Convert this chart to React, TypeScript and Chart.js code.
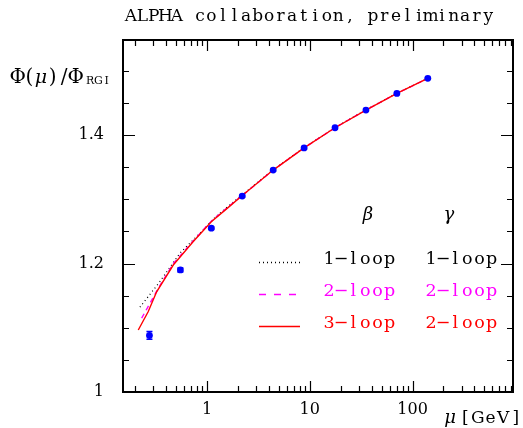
import React, { useEffect, useRef } from 'react';
import { Chart, registerables } from 'chart.js';

Chart.register(...registerables);

// ---------- data ----------
const muPoints = [0.275, 0.55, 1.1, 2.2, 4.4, 8.8, 17.6, 35.2, 70.4, 140.8];
const phiPoints = [1.088, 1.19, 1.255, 1.305, 1.3455, 1.38, 1.4114, 1.4389, 1.4649, 1.4883];
const phiErrors = [0.006, 0.003, 0.002, 0.0015, 0.0015, 0.0015, 0.0015, 0.0015, 0.0015, 0.0015];

const mu3loop = [0.214, 0.267, 0.323, 0.469, 0.731, 1.1, 1.6, 2.2, 4.4, 8.8, 17.6, 35.2, 70.4, 140.8];
const phi3loop = [1.0965, 1.125, 1.156, 1.1977, 1.234, 1.265, 1.287, 1.306, 1.3455, 1.38, 1.4114, 1.4389, 1.4649, 1.4883];

const mu2loop = [0.231, 0.278, 0.334, 0.469, 0.731, 1.1, 1.6, 2.2, 4.4, 8.8, 17.6, 35.2, 70.4, 140.8];
const phi2loop = [1.115, 1.138, 1.161, 1.2, 1.235, 1.266, 1.288, 1.306, 1.3455, 1.38, 1.4114, 1.4389, 1.4649, 1.4883];

const mu1loop = [0.222, 0.347, 0.543, 0.849, 1.2, 1.6, 2.2, 4.4, 8.8, 17.6, 35.2, 70.4, 140.8];
const phi1loop = [1.132, 1.1717, 1.216, 1.247, 1.272, 1.289, 1.307, 1.346, 1.3805, 1.4118, 1.4392, 1.4652, 1.4886];

const xTickLabels = [1, 10, 100];
const xMinorTicks = [0.2, 0.3, 0.4, 0.5, 0.6, 0.7, 0.8, 0.9, 2, 3, 4, 5, 6, 7, 8, 9, 20, 30, 40, 50, 60, 70, 80, 90, 200, 300, 400, 500, 600, 700, 800, 900];
const yTickLabels = [1, 1.2, 1.4];
const yMinorTicks = [1.05, 1.1, 1.15, 1.25, 1.3, 1.35, 1.45, 1.5];

const titleText = 'ALPHA collaboration, preliminary';
const legendRows = [
  { beta: '1\u2212loop', gamma: '1\u2212loop', color: '#000000', dash: [1, 3] },
  { beta: '2\u2212loop', gamma: '2\u2212loop', color: '#ff00ff', dash: [7, 8] },
  { beta: '3\u2212loop', gamma: '2\u2212loop', color: '#ff0000', dash: [] as number[] },
];

const FONT = '"DejaVu Serif", serif';

function drawMono(ctx: CanvasRenderingContext2D, text: string, x: number, y: number, pitch: number) {
  for (let i = 0; i < text.length; i++) {
    const ch = text[i];
    const w = ctx.measureText(ch).width;
    ctx.fillText(ch, x + i * pitch + (pitch - w) / 2, y);
  }
}

const decorPlugin = {
  id: 'decor',
  beforeDatasetsDraw(chart: any) {
    const ctx: CanvasRenderingContext2D = chart.ctx;
    const xs = chart.scales.x;
    const ys = chart.scales.y;
    ctx.save();
    ctx.strokeStyle = '#0000ff';
    ctx.lineWidth = 1.5;
    for (let i = 0; i < muPoints.length; i++) {
      const px = xs.getPixelForValue(muPoints[i]);
      const y1 = ys.getPixelForValue(phiPoints[i] - phiErrors[i]);
      const y2 = ys.getPixelForValue(phiPoints[i] + phiErrors[i]);
      ctx.beginPath();
      ctx.moveTo(px, y1);
      ctx.lineTo(px, y2);
      ctx.moveTo(px - 3, y1);
      ctx.lineTo(px + 3, y1);
      ctx.moveTo(px - 3, y2);
      ctx.lineTo(px + 3, y2);
      ctx.stroke();
    }
    ctx.restore();
  },
  afterDraw(chart: any) {
    const ctx: CanvasRenderingContext2D = chart.ctx;
    const a = chart.chartArea;
    const xs = chart.scales.x;
    const ys = chart.scales.y;
    ctx.save();
    ctx.strokeStyle = '#000';
    ctx.lineWidth = 1.2;
    ctx.beginPath();
    const xt = (v: number, len: number) => {
      const p = Math.round(xs.getPixelForValue(v)) + 0.5;
      ctx.moveTo(p, a.bottom);
      ctx.lineTo(p, a.bottom - len);
      ctx.moveTo(p, a.top);
      ctx.lineTo(p, a.top + len);
    };
    const yt = (v: number, len: number) => {
      const p = Math.round(ys.getPixelForValue(v)) + 0.5;
      ctx.moveTo(a.left, p);
      ctx.lineTo(a.left + len, p);
      ctx.moveTo(a.right, p);
      ctx.lineTo(a.right - len, p);
    };
    xTickLabels.forEach((v) => xt(v, 11));
    xMinorTicks.forEach((v) => xt(v, 6));
    yTickLabels.forEach((v) => yt(v, 12));
    yMinorTicks.forEach((v) => yt(v, 6));
    ctx.stroke();
    ctx.lineWidth = 2;
    ctx.strokeRect(a.left, a.top, a.right - a.left, a.bottom - a.top);

    // title
    ctx.fillStyle = '#000';
    ctx.textBaseline = 'alphabetic';
    ctx.font = `17px ${FONT}`;
    drawMono(ctx, titleText, 125, 21, 11.53);

    // y-axis label
    ctx.font = `20px ${FONT}`;
    drawMono(ctx, '\u03A6(', 12, 83, 11.6);
    ctx.font = `italic 19px ${FONT}`;
    drawMono(ctx, '\u03BC', 12 + 2 * 11.6, 83, 11.6);
    ctx.font = `20px ${FONT}`;
    drawMono(ctx, ')/\u03A6', 12 + 3 * 11.6, 83, 11.6);
    ctx.font = `11px ${FONT}`;
    drawMono(ctx, 'RGI', 86, 84, 8.3);

    // x-axis label
    ctx.font = `italic 18px ${FONT}`;
    drawMono(ctx, '\u03BC', 443, 423, 14);
    ctx.font = `17px ${FONT}`;
    drawMono(ctx, '[GeV]', 459, 423, 12.6);

    // legend
    ctx.font = `italic 18px ${FONT}`;
    ctx.textAlign = 'center';
    ctx.fillText('\u03B2', 368, 220);
    ctx.fillText('\u03B3', 449, 220);
    ctx.textAlign = 'left';
    const rowY = [264, 296, 328];
    legendRows.forEach((r, i) => {
      ctx.font = `17.5px ${FONT}`;
      ctx.fillStyle = r.color;
      drawMono(ctx, r.beta, 323, rowY[i], 12.1);
      drawMono(ctx, r.gamma, 425, rowY[i], 12.1);
      ctx.strokeStyle = r.color;
      ctx.lineWidth = 1.3;
      ctx.setLineDash(r.dash);
      ctx.beginPath();
      const ly = rowY[i] - 1.5;
      ctx.moveTo(259, ly);
      ctx.lineTo(300, ly);
      ctx.stroke();
      ctx.setLineDash([]);
    });
    ctx.restore();
  },
};

export default function App() {
  const ref = useRef<HTMLCanvasElement | null>(null);
  useEffect(() => {
    if (!ref.current) return;
    const toXY = (xs: number[], ys: number[]) => xs.map((x, i) => ({ x, y: ys[i] }));
    const chart = new Chart(ref.current, {
      type: 'scatter',
      data: {
        datasets: [
          {
            label: 'data',
            data: toXY(muPoints, phiPoints),
            backgroundColor: '#0000ff',
            borderColor: '#0000ff',
            pointRadius: 3.4,
            pointBorderWidth: 0,
            showLine: false,
          },
          {
            label: '3-loop',
            data: toXY(mu3loop, phi3loop),
            borderColor: '#ff0000',
            borderWidth: 1.4,
            pointRadius: 0,
            showLine: true,
          },
          {
            label: '2-loop',
            data: toXY(mu2loop, phi2loop),
            borderColor: '#ff00ff',
            borderWidth: 1.4,
            borderDash: [5, 4],
            pointRadius: 0,
            showLine: true,
          },
          {
            label: '1-loop',
            data: toXY(mu1loop, phi1loop),
            borderColor: '#000000',
            borderWidth: 1.2,
            borderDash: [1, 3],
            pointRadius: 0,
            showLine: true,
          },
        ] as any,
      },
      options: {
        animation: false,
        responsive: false,
        maintainAspectRatio: false,
        layout: { padding: { top: 40, right: 10, left: 0, bottom: 0 } },
        plugins: { legend: { display: false }, tooltip: { enabled: false }, title: { display: false } },
        scales: {
          x: {
            type: 'logarithmic',
            min: 0.152,
            max: 950,
            grid: { display: false },
            border: { display: false },
            afterBuildTicks: (s: any) => {
              s.ticks = xTickLabels.map((v) => ({ value: v }));
            },
            afterFit: (s: any) => {
              s.height = 36;
            },
            ticks: {
              autoSkip: false,
              maxRotation: 0,
              padding: 0,
              color: '#000',
              font: { family: 'DejaVu Serif', size: 16 },
              callback: (v: any) => String(v),
            },
          },
          y: {
            type: 'linear',
            min: 1,
            max: 1.548,
            grid: { display: false },
            border: { display: false },
            afterBuildTicks: (s: any) => {
              s.ticks = yTickLabels.map((v) => ({ value: v }));
            },
            afterFit: (s: any) => {
              s.width = 123;
            },
            ticks: {
              padding: 11,
              color: '#000',
              font: { family: 'DejaVu Serif', size: 16 },
              callback: (v: any) => (v === 1 ? '1' : Number(v).toFixed(1)),
            },
          },
        },
      } as any,
      plugins: [decorPlugin],
    });
    return () => chart.destroy();
  }, []);
  return (
    <div style={{ position: 'fixed', left: 0, top: 0, width: 523, height: 428, background: '#fff' }}>
      <canvas ref={ref} width={523} height={428} style={{ width: 523, height: 428, display: 'block' }} />
    </div>
  );
}
